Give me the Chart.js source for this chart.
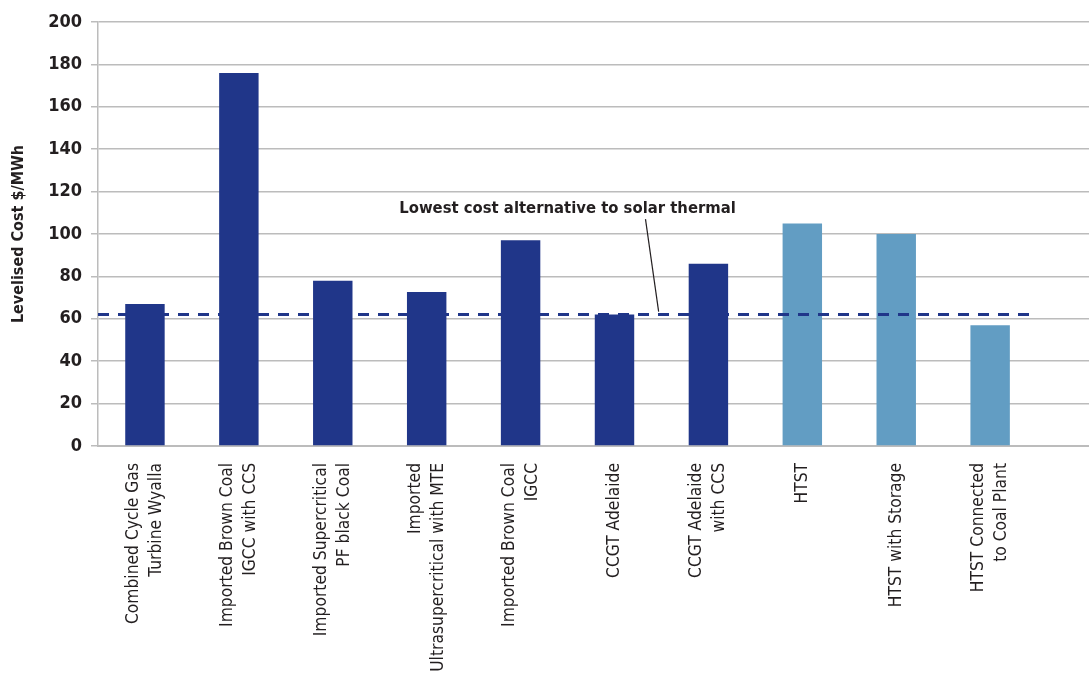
<!DOCTYPE html>
<html><head><meta charset="utf-8">
<script src="https://cdn.jsdelivr.net/npm/chart.js@4/dist/chart.umd.min.js"></script>
<style>
html,body{margin:0;padding:0;background:#fff;overflow:hidden;}
#wrap{position:relative;width:1131px;height:678px;}
</style></head><body>
<div id="wrap"><canvas id="c"></canvas></div>
<script>
// ---- data ----
const categories = [
  ['Combined Cycle Gas', 'Turbine Wyalla'],
  ['Imported Brown Coal', 'IGCC with CCS'],
  ['Imported Supercritical', 'PF black Coal'],
  ['Imported', 'Ultrasupercritical with MTE'],
  ['Imported Brown Coal', 'IGCC'],
  'CCGT Adelaide',
  ['CCGT Adelaide', 'with CCS'],
  'HTST',
  'HTST with Storage',
  ['HTST Connected', 'to Coal Plant']
];
const costs = [67, 176, 78, 72.6, 97, 62, 86, 105, 100, 57];
const technologyGroup = ['fossil', 'fossil', 'fossil', 'fossil', 'fossil', 'fossil', 'fossil', 'solar', 'solar', 'solar'];
const yTicks = [0, 20, 40, 60, 80, 100, 120, 140, 160, 180, 200];
const lowestCostLevel = 62;
const dashedLineExtent = [-0.5, 9.44];        // category index range
const annotationText = 'Lowest cost alternative to solar thermal';
const annotationAnchor = [4.5, 112];          // [category index, value]
const leaderStart = [5.33, 107];
const leaderEnd = [5.47, 63.4];
const yTitle = 'Levelised Cost $/MWh';

// ---- styling ----
const FONT = '"Liberation Sans Narrow", "DejaVu Sans Condensed", "Liberation Sans", sans-serif';
const groupColors = { fossil: '#203689', solar: '#629DC3' };
const TEXT = '#231f20';
const GRID = '#bcbcbc';

const labels = categories.concat(['']);

const overlay = {
  id: 'overlay',
  beforeDraw(chart) {
    // centre multi-line rotated labels on their bars
    const s = chart.scales.x;
    const items = s.getLabelItems();
    items.forEach(it => {
      if (Array.isArray(it.label) && it.label.length > 1 && !it._shifted) {
        const lh = it.font.lineHeight;
        it.options.translation[0] -= lh * (it.label.length - 1) / 2;
        it._shifted = true;
      }
    });
  },
  afterDatasetsDraw(chart) {
    const ctx = chart.ctx, x = chart.scales.x, y = chart.scales.y;
    ctx.save();
    // dashed lowest-cost line
    ctx.strokeStyle = '#203689';
    ctx.lineWidth = 3;
    ctx.setLineDash([11, 9]);
    ctx.beginPath();
    const yy = y.getPixelForValue(lowestCostLevel);
    ctx.moveTo(x.getPixelForValue(dashedLineExtent[0]), yy);
    ctx.lineTo(x.getPixelForValue(dashedLineExtent[1]), yy);
    ctx.stroke();
    // leader
    ctx.setLineDash([]);
    ctx.strokeStyle = '#231f20';
    ctx.lineWidth = 1.2;
    ctx.beginPath();
    ctx.moveTo(x.getPixelForValue(leaderStart[0]), y.getPixelForValue(leaderStart[1]));
    ctx.lineTo(x.getPixelForValue(leaderEnd[0]), y.getPixelForValue(leaderEnd[1]));
    ctx.stroke();
    // annotation text
    ctx.fillStyle = TEXT;
    ctx.font = 'bold 16.5px ' + FONT;
    ctx.textAlign = 'center';
    ctx.textBaseline = 'middle';
    ctx.fillText(annotationText, x.getPixelForValue(annotationAnchor[0]), y.getPixelForValue(annotationAnchor[1]));
    ctx.restore();
  }
};

new Chart(document.getElementById('c'), {
  type: 'bar',
  data: {
    labels: labels,
    datasets: [{
      data: costs,
      backgroundColor: technologyGroup.map(g => groupColors[g]),
      borderWidth: 0,
      categoryPercentage: 1,
      barPercentage: 0.42
    }]
  },
  options: {
    responsive: true,
    maintainAspectRatio: false,
    animation: false,
    layout: { padding: { top: 22, right: 0, left: 0, bottom: 0 } },
    plugins: { legend: { display: false }, tooltip: { enabled: false } },
    scales: {
      x: {
        grid: { display: false, drawTicks: false },
        border: { display: true, color: GRID, width: 2 },
        ticks: {
          autoSkip: false, minRotation: 90, maxRotation: 90,
          color: TEXT, padding: 17,
          font: { family: FONT, size: 17.3, lineHeight: 1.32 }
        },
        afterFit(s) { s.height = 232; }
      },
      y: {
        min: 0, max: 200,
        afterBuildTicks(s) { s.ticks = yTicks.map(v => ({ value: v })); },
        grid: { color: GRID, lineWidth: 1.5, tickLength: 7, drawTicks: true },
        border: { display: true, color: GRID, width: 1.5 },
        ticks: {
          color: TEXT, padding: 9,
          font: { family: FONT, size: 18, weight: 'bold' }
        },
        title: {
          display: true, text: yTitle, color: TEXT,
          font: { family: FONT, size: 16, weight: 'bold' },
          padding: { top: 9, bottom: 0 }
        },
        afterFit(s) { s.width = 98; }
      }
    }
  },
  plugins: [overlay]
});
</script>
</body></html>
